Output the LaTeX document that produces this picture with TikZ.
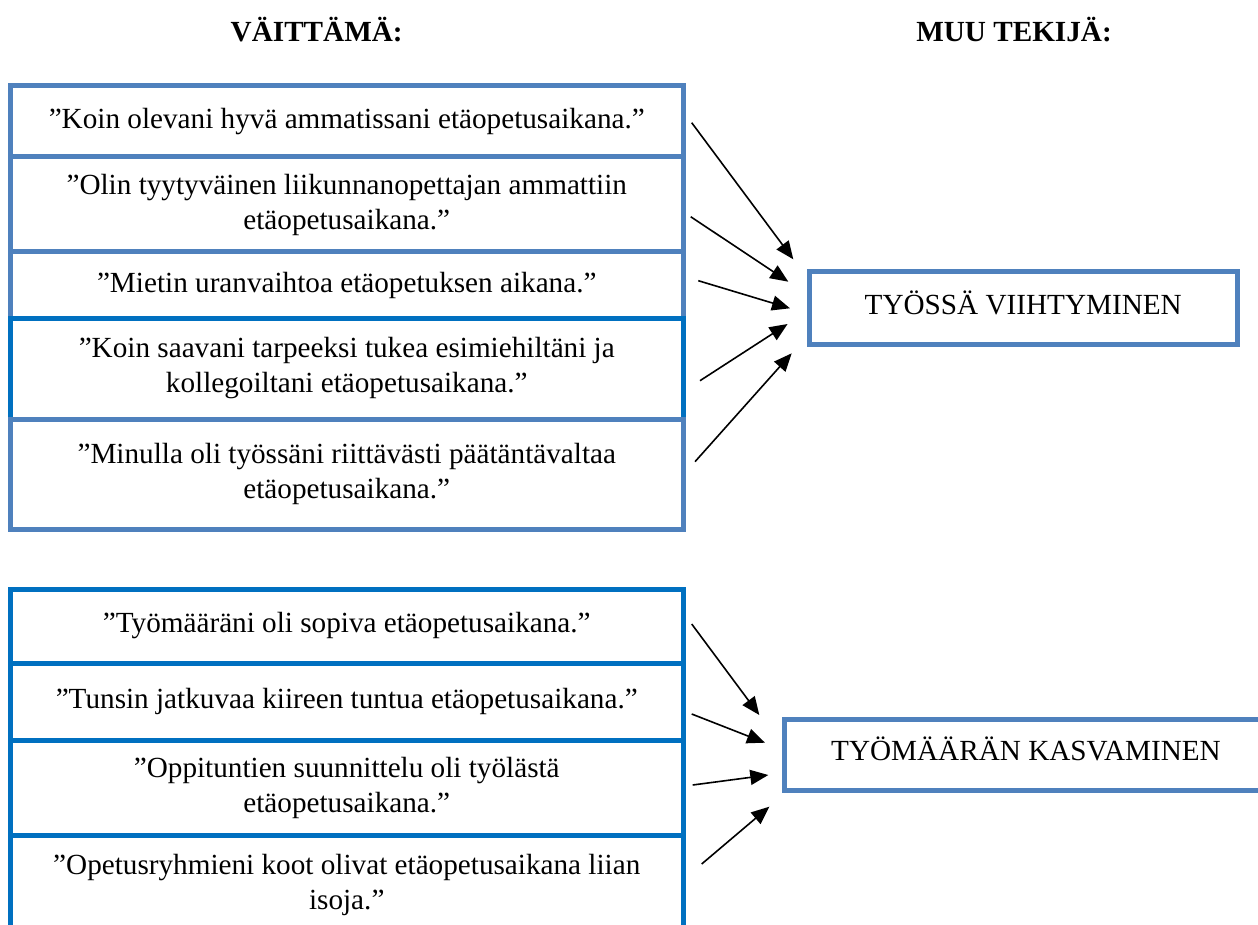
\documentclass[tikz,border=0pt]{standalone}
\usepackage{fontspec}
\setmainfont{Liberation Serif}
\usetikzlibrary{arrows.meta,positioning}
\definecolor{vaalea}{HTML}{4F81BD}
\definecolor{tumma}{HTML}{0070C0}
\newcommand{\vaitefont}{\fontsize{14.6}{17.5}\selectfont}
\tikzset{
  vaite/.style={draw=vaalea, line width=2.5pt, minimum width=336.25pt, inner sep=0pt, align=center, font=\vaitefont},
  tekija/.style={draw=vaalea, line width=2.5pt, inner sep=0pt, font=\vaitefont},
  otsikko/.style={font=\vaitefont\bfseries},
  nuoli/.style={-{Triangle[length=9pt,width=7.5pt]}, line width=0.8pt}
}

\begin{document}
\begin{tikzpicture}[x=0.5pt,y=-0.5pt]
\useasboundingbox (0,0) rectangle (1258,925);
\clip (0,0) rectangle (1258,925);

\node[otsikko] (otsikko1) at (316.7,30) {VÄITTÄMÄ:};
\node[otsikko] (otsikko2) at (1014,30) {MUU TEKIJÄ:};

% työssä viihtyminen
\node[vaite, minimum height=35.5pt] (v1) at (346.75,121.5) {”Koin olevani hyvä ammatissani etäopetusaikana.”};
\node[vaite, minimum height=47.5pt] (v2) at (346.75,204.5) {”Olin tyytyväinen liikunnanopettajan ammattiin\\etäopetusaikana.”};
\node[vaite, minimum height=33pt] (v3) at (346.75,285) {”Mietin uranvaihtoa etäopetuksen aikana.”};
\node[vaite, draw=tumma, minimum height=50.5pt] (v4) at (346.75,368.5) {”Koin saavani tarpeeksi tukea esimiehiltäni ja\\kollegoiltani etäopetusaikana.”};
\node[vaite, minimum height=55pt] (v5) at (346.75,474) {”Minulla oli työssäni riittävästi päätäntävaltaa\\etäopetusaikana.”};
\node[tekija, minimum width=213.75pt, minimum height=36pt, text depth=5pt] (t1) at (1023.25,308) {TYÖSSÄ VIIHTYMINEN};

\coordinate (va1) at (691.7,122.7);  \coordinate (vt1) at (793.3,259.3);
\coordinate (va2) at (690.7,216.7);  \coordinate (vt2) at (788.3,281.7);
\coordinate (va3) at (698.3,280.7);  \coordinate (vt3) at (790,308.3);
\coordinate (va4) at (700,380.7);    \coordinate (vt4) at (787.6,324);
\coordinate (va5) at (695,461.7);    \coordinate (vt5) at (791.7,353.3);
\foreach \i in {1,...,5}
  \draw[nuoli] (va\i) -- (vt\i);

% työmäärän kasvaminen
\node[vaite, draw=tumma, minimum height=37pt] (w1) at (346.75,626) {”Työmääräni oli sopiva etäopetusaikana.”};
\node[vaite, draw=tumma, minimum height=38.5pt] (w2) at (346.75,701.5) {”Tunsin jatkuvaa kiireen tuntua etäopetusaikana.”};
\node[vaite, draw=tumma, minimum height=47.5pt] (w3) at (346.75,787.5) {”Oppituntien suunnittelu oli työlästä\\etäopetusaikana.”};
\node[vaite, draw=tumma, minimum height=50pt] (w4) at (346.75,885) {”Opetusryhmieni koot olivat etäopetusaikana liian\\isoja.”};
\node[tekija, minimum width=242pt, minimum height=35.75pt, text depth=6pt] (t2) at (1026,754.75) {TYÖMÄÄRÄN KASVAMINEN};

\coordinate (wa1) at (691.7,624);    \coordinate (wt1) at (759.3,715);
\coordinate (wa2) at (691.7,714);    \coordinate (wt2) at (765,742.7);
\coordinate (wa3) at (692.7,785);    \coordinate (wt3) at (768.3,775);
\coordinate (wa4) at (701.7,864);    \coordinate (wt4) at (769.3,806.7);
\foreach \i in {1,...,4}
  \draw[nuoli] (wa\i) -- (wt\i);
\end{tikzpicture}
\end{document}
